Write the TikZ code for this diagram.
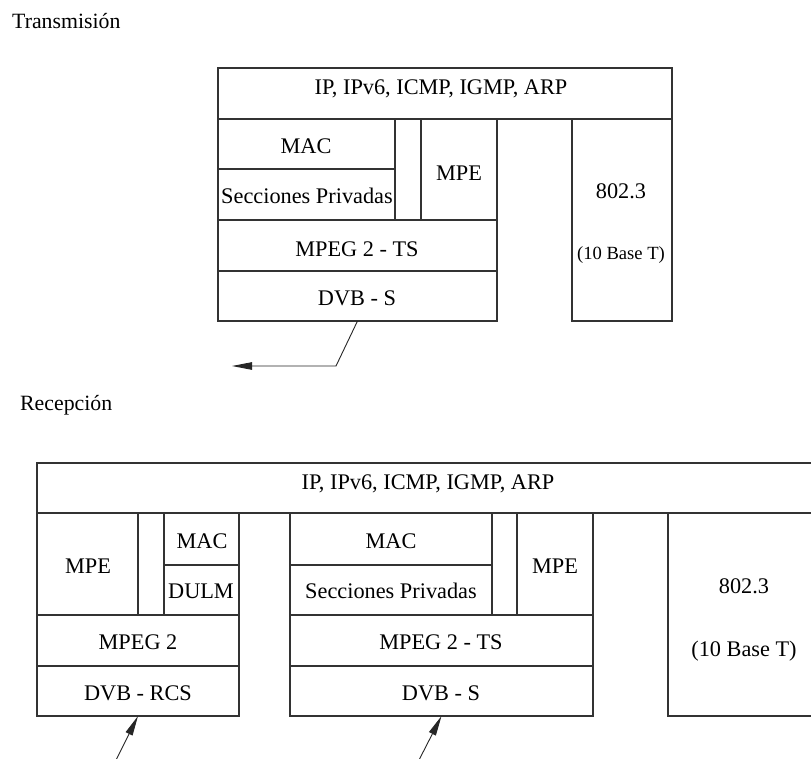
\documentclass[tikz,border=0pt]{standalone}
\usepackage{fontspec}
\setmainfont{Liberation Serif}
\usetikzlibrary{arrows.meta}

% one layer cell: name, x1, y1, x2, y2 (y grows downwards)
\newcommand{\cellat}[5]{%
  \node[cell, minimum width={#4-#2}, minimum height={#5-#3}]
    (#1) at ({(#2+#4)/2},{(#3+#5)/2}) {};}

\begin{document}
\begin{tikzpicture}[x=1pt, y=-1pt,
  cell/.style={draw=black!80, line width=1.1pt, rectangle, inner sep=0pt, outer sep=0pt},
  lbl/.style={anchor=base, inner sep=0pt, font=\fontsize{22.3}{25}\selectfont},
  smalllbl/.style={anchor=base, inner sep=0pt, font=\fontsize{18.6}{21}\selectfont},
  title/.style={anchor=base west, inner sep=0pt, font=\fontsize{21.8}{24}\selectfont},
  conn/.style={draw=black!85, line width=0.9pt},
  tip/.style={-{Triangle[length=20pt, width=7.5pt]}}]
\useasboundingbox (0,0) rectangle (811,758);
\fill[white] (0,0) rectangle (811,758);

% ---------------- Transmisión ----------------
\node[title] (ttitle) at (12,28) {Transmisión};

\cellat{tip}{218}{68}{672}{119}
\cellat{tmac}{218}{119}{395}{169}
\cellat{tsec}{218}{169}{395}{220}
\cellat{tgap}{395}{119}{421}{220}
\cellat{tmpe}{421}{119}{497}{220}
\cellat{tmpeg}{218}{220}{497}{271}
\cellat{tdvb}{218}{271}{497}{321}
\cellat{teth}{572}{119}{672}{321}

\node[lbl] (tiptxt) at (441,94) {IP, IPv6, ICMP, IGMP, ARP};
\node[lbl] (tmactxt) at (306,153) {MAC};
\node[lbl] (tsectxt) at (307,203) {Secciones Privadas};
\node[lbl] (tmpetxt) at (459,180) {MPE};
\node[lbl] (tmpegtxt) at (357,256) {MPEG 2 - TS};
\node[lbl] (tdvbtxt) at (357,305) {DVB - S};
\node[lbl] (tethtxt) at (621,198) {802.3};
\node[smalllbl] (tbasetxt) at (621,259) {(10 Base T)};

\coordinate (tbend) at (336,366);
\coordinate (tend) at (232,366);
\draw[conn, tip] (tdvb.south) -- (tbend) -- (tend);

% ---------------- Recepción ----------------
\node[title] (rtitle) at (20,410) {Recepción};

\cellat{bip}{37}{463}{830}{513}
\cellat{bmpea}{37}{513}{138}{615}
\cellat{bgapa}{138}{513}{164}{615}
\cellat{bmaca}{164}{513}{239}{565}
\cellat{bdulm}{164}{565}{239}{615}
\cellat{bmpeg}{37}{615}{239}{666}
\cellat{brcs}{37}{666}{239}{716}
\cellat{bmacb}{290}{513}{492}{565}
\cellat{bsecb}{290}{565}{492}{615}
\cellat{bgapb}{492}{513}{517}{615}
\cellat{bmpeb}{517}{513}{593}{615}
\cellat{bmpegts}{290}{615}{593}{666}
\cellat{bdvbs}{290}{666}{593}{716}
\cellat{beth}{668}{513}{820}{716}

\node[lbl] (biptxt) at (428,489) {IP, IPv6, ICMP, IGMP, ARP};
\node[lbl] (bmpeatxt) at (88,573) {MPE};
\node[lbl] (bmacatxt) at (202,548) {MAC};
\node[lbl] (bdulmtxt) at (201,598) {DULM};
\node[lbl] (bmpegtxt) at (138,649) {MPEG 2};
\node[lbl] (brcstxt) at (138,700) {DVB - RCS};
\node[lbl] (bmacbtxt) at (391,548) {MAC};
\node[lbl] (bsecbtxt) at (391,598) {Secciones Privadas};
\node[lbl] (bmpebtxt) at (555,573) {MPE};
\node[lbl] (bmpegtstxt) at (441,649) {MPEG 2 - TS};
\node[lbl] (bdvbstxt) at (441,700) {DVB - S};
\node[lbl] (bethtxt) at (744,593) {802.3};
\node[lbl] (bbasetxt) at (744,656) {(10 Base T)};

\coordinate (rcsfrom) at (115,762);
\coordinate (dvbfrom) at (418,762);
\draw[conn, tip] (rcsfrom) -- (brcs.south);
\draw[conn, tip] (dvbfrom) -- (bdvbs.south);
\end{tikzpicture}
\end{document}
